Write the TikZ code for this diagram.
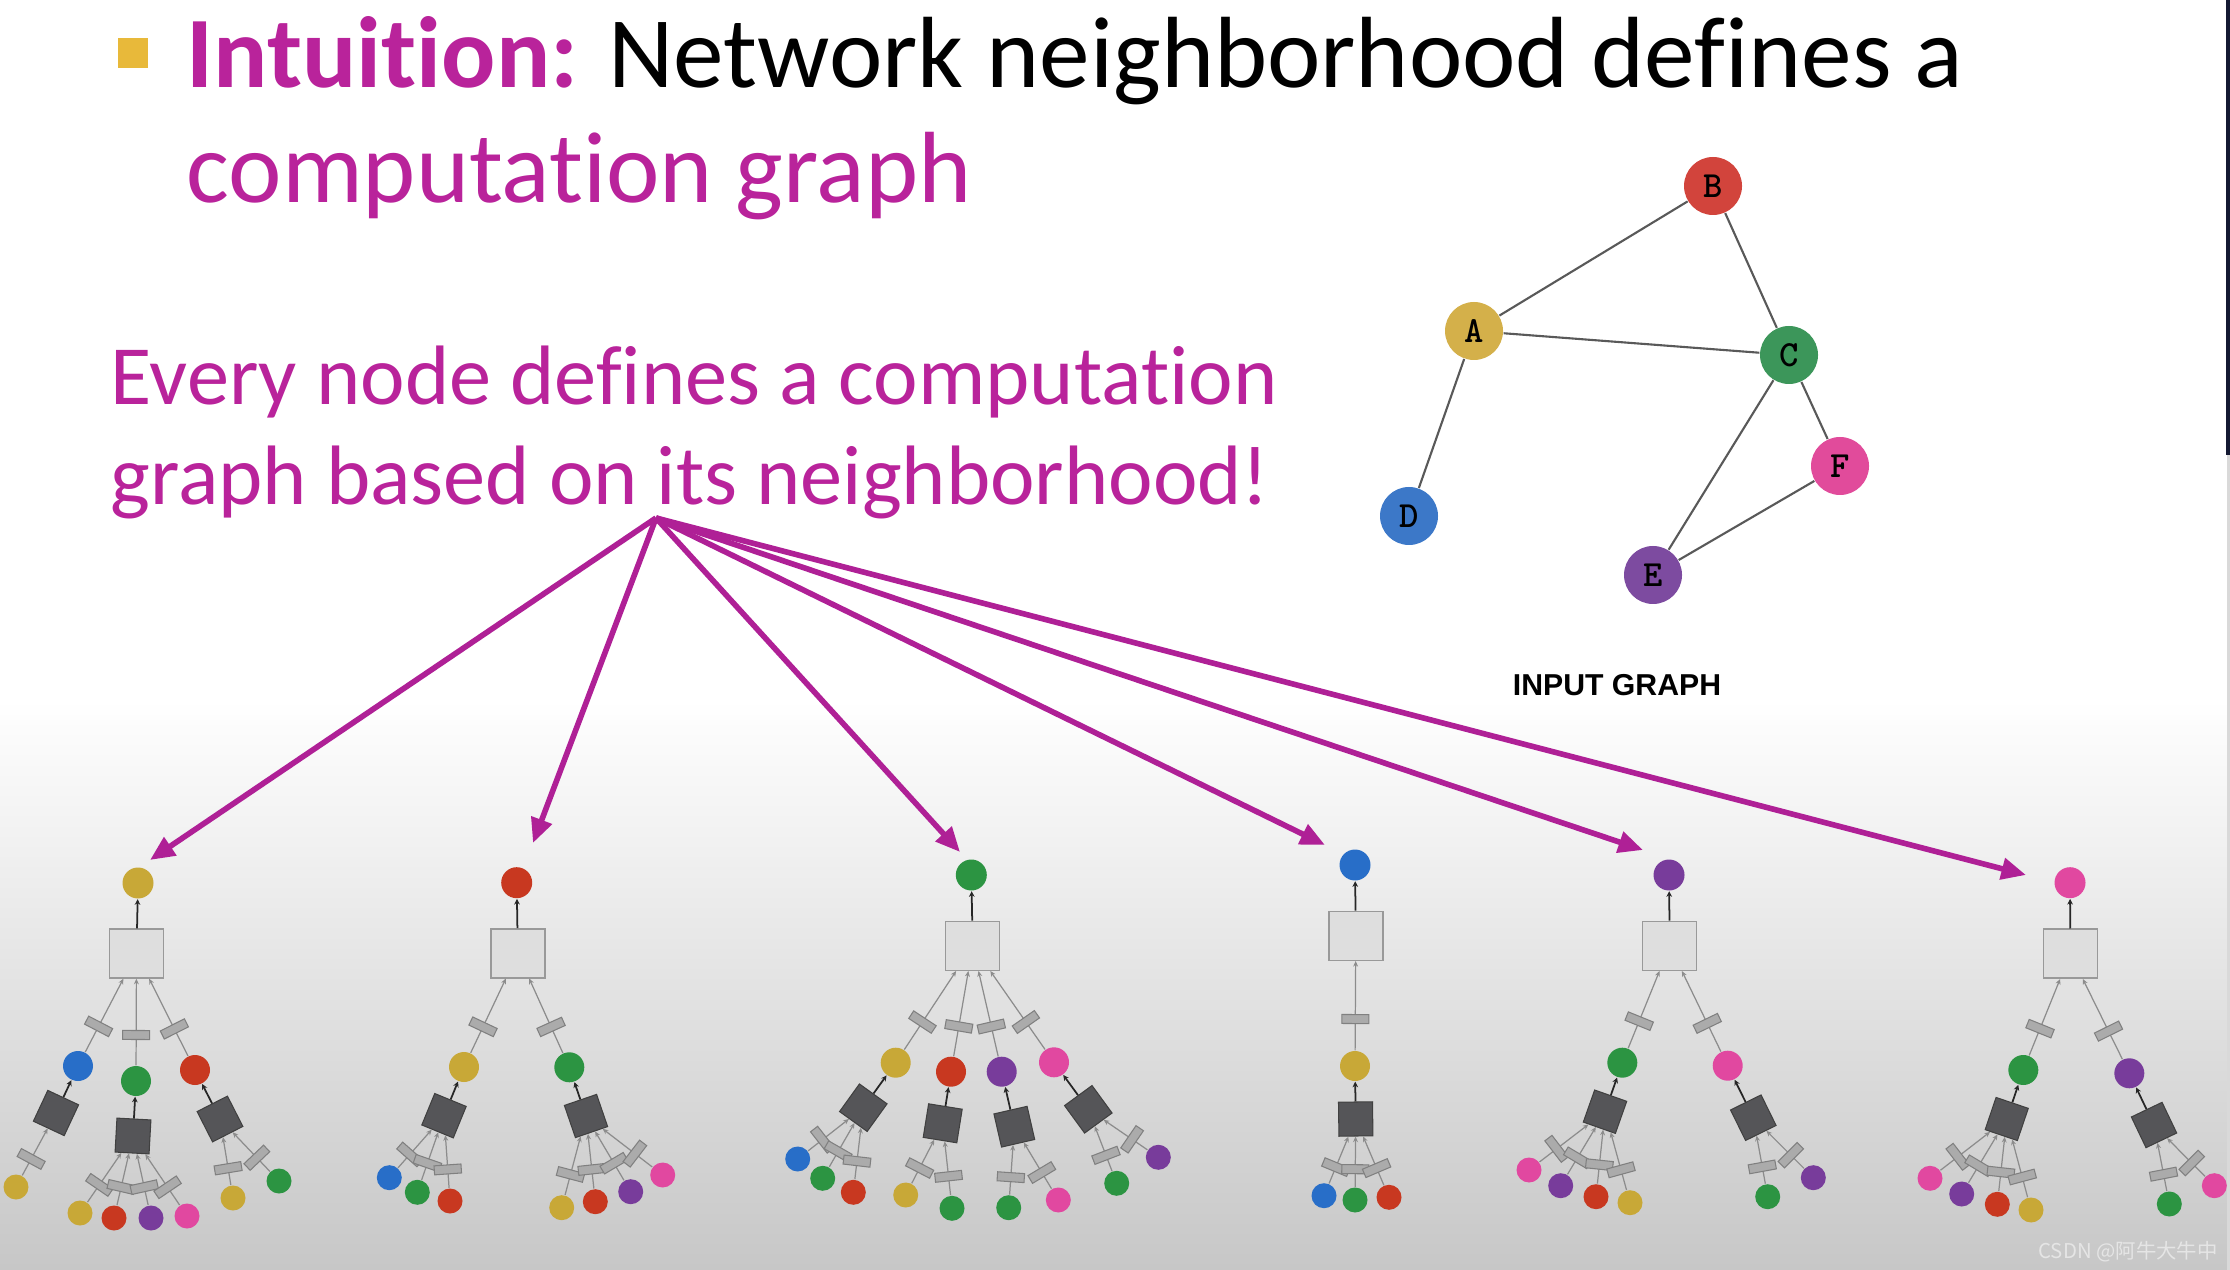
\documentclass[tikz,border=0pt]{standalone}
\usepackage{fontspec}
\usetikzlibrary{arrows.meta}
\newfontfamily\tf[Ligatures=NoCommon]{Carlito}
\newfontfamily\hf{Liberation Sans}
\newfontfamily\cjk{Noto Sans CJK SC}
\definecolor{mag}{RGB}{185,35,155}
\definecolor{amag}{RGB}{175,32,150}
\definecolor{bul}{RGB}{232,185,58}
\definecolor{cy}{RGB}{200,168,55}
\definecolor{cr}{RGB}{200,56,32}
\definecolor{cg}{RGB}{44,148,66}
\definecolor{cb}{RGB}{40,110,200}
\definecolor{cp}{RGB}{120,60,155}
\definecolor{ck}{RGB}{225,72,160}
\definecolor{gA}{RGB}{212,176,74}
\definecolor{gB}{RGB}{210,68,60}
\definecolor{gC}{RGB}{60,150,90}
\definecolor{gD}{RGB}{60,120,200}
\definecolor{gE}{RGB}{125,75,160}
\definecolor{gF}{RGB}{225,75,155}
\definecolor{dbf}{RGB}{85,85,88}
\definecolor{navy}{RGB}{20,25,50}
\newcommand\ed[3][0.35]{\draw[edg] (#2) -- node[eb, pos=#1, sloped]{} (#3);}
\newcommand\tlone[4]{\node[cn, fill=#2] (#1) at (#3) {}; \ed{#1}{#4}}
\newcommand\tleaf[4]{\node[lf, fill=#2] (#1) at (#3) {}; \ed{#1}{#4}}
\newcommand\tdark[3]{\path (#1) -- (#2) node[db, sloped, pos=1] (#3) {}; \draw[con] (#3) -- (#1);}
\begin{document}
\begin{tikzpicture}[x=0.1mm, y=-0.1mm,
 rt/.style={circle, inner sep=0pt, minimum size=3.1mm},
 cn/.style={circle, inner sep=0pt, minimum size=3.0mm},
 lf/.style={circle, inner sep=0pt, minimum size=2.5mm},
 lb/.style={rectangle, inner sep=0pt, minimum width=5.4mm, minimum height=4.9mm, fill=black!13, draw=black!40, line width=0.4pt},
 db/.style={rectangle, inner sep=0pt, minimum size=3.4mm, fill=dbf, draw=black!75, line width=0.3pt},
 eb/.style={rectangle, inner sep=0pt, minimum width=0.9mm, minimum height=2.7mm, fill=black!33, draw=black!50, line width=0.3pt},
 edg/.style={draw=black!45, line width=0.35pt, -{Stealth[length=1.6pt,width=1.4pt]}},
 con/.style={draw=black!85, line width=0.5pt, -{Stealth[length=1.6pt,width=1.6pt]}},
 big/.style={draw=amag, line width=1.6pt, -{Triangle[length=7pt,width=6pt]}},
 gn/.style={circle, inner sep=0pt, minimum size=5.8mm, font=\ttfamily\bfseries\fontsize{10.5pt}{10pt}\selectfont},
 ge/.style={draw=black!65, line width=0.6pt},
 tx/.style={anchor=base west, inner sep=0pt}
]
\useasboundingbox (0,0) rectangle (2230,1270);
\fill[white] (0,0) rectangle (2230,700);
\shade[top color=white, bottom color=black!22] (0,699) rectangle (2230,1270);
\fill[navy] (2226,0) rectangle (2230,455);
\fill[black!15] (2227,455) rectangle (2230,1270);

% title
\fill[bul] (118,38) rectangle (148,68);
\node[tx, font=\tf\fontsize{28.8pt}{32pt}\selectfont] (t1) at (186,88) {\textcolor{mag}{\bfseries Intuition:} Network neighborhood defines a};
\node[tx, font=\tf\fontsize{28.8pt}{32pt}\selectfont, text=mag] (t2) at (186,203) {computation graph};
\node[tx, font=\tf\fontsize{24pt}{28pt}\selectfont, text=mag] (t3) at (110,405) {Every node defines a computation};
\node[tx, font=\tf\fontsize{24pt}{28pt}\selectfont, text=mag] (t4) at (110,505) {graph based on its neighborhood!};

% input graph
\node[gn, fill=gA] (A) at (1474,331) {A};
\node[gn, fill=gB] (B) at (1713,186) {B};
\node[gn, fill=gC] (C) at (1789,355) {C};
\node[gn, fill=gD] (D) at (1409,516) {D};
\node[gn, fill=gE] (E) at (1653,575) {E};
\node[gn, fill=gF] (F) at (1840,466) {F};
\draw[ge] (A) -- (B);
\draw[ge] (A) -- (C);
\draw[ge] (A) -- (D);
\draw[ge] (B) -- (C);
\draw[ge] (C) -- (E);
\draw[ge] (C) -- (F);
\draw[ge] (E) -- (F);
\node[font=\hf\bfseries\fontsize{8.6pt}{9pt}\selectfont] (ig) at (1617,685) {INPUT GRAPH};

% Tree 1 (A)
\node[rt, fill=cy] (r1) at (138,883) {};
\node[lb] (b1) at (136.5,953.5) {};
\draw[con] (b1) -- (r1);
\tlone{a11}{cb}{78,1066}{b1}
\tlone{a12}{cg}{136,1081}{b1}
\tlone{a13}{cr}{195,1070}{b1}
\tdark{a11}{56,1113}{d11}
\tdark{a12}{133,1136}{d12}
\tdark{a13}{220,1119}{d13}
\tleaf{l111}{cy}{16,1187}{d11}
\tleaf{l121}{cy}{80,1213}{d12}
\tleaf{l122}{cr}{114,1218}{d12}
\tleaf{l123}{cp}{151,1218}{d12}
\tleaf{l124}{ck}{187,1216}{d12}
\tleaf{l131}{cy}{233,1198}{d13}
\tleaf{l132}{cg}{279,1181}{d13}

% Tree 2 (B)
\node[rt, fill=cr] (r2) at (516.7,882.7) {};
\node[lb] (b2) at (517.8,953.3) {};
\draw[con] (b2) -- (r2);
\tlone{a21}{cy}{464,1067}{b2}
\tlone{a22}{cg}{569.3,1067.3}{b2}
\tdark{a21}{444,1115.7}{d21}
\tdark{a22}{586,1116}{d22}
\tleaf{l211}{cb}{389.3,1177.7}{d21}
\tleaf{l212}{cg}{417.3,1192.3}{d21}
\tleaf{l213}{cr}{450,1201}{d21}
\tleaf{l221}{cy}{561.7,1207.7}{d22}
\tleaf{l222}{cr}{595.3,1201.7}{d22}
\tleaf{l223}{cp}{630.7,1191.7}{d22}
\tleaf{l224}{ck}{662.7,1175}{d22}

% Tree 3 (C)
\node[rt, fill=cg] (r3) at (971.3,875) {};
\node[lb] (b3) at (972.7,945.8) {};
\draw[con] (b3) -- (r3);
\tlone{a31}{cy}{895.7,1062.7}{b3}
\tlone{a32}{cr}{951,1071.7}{b3}
\tlone{a33}{cp}{1001.7,1071.7}{b3}
\tlone{a34}{ck}{1054,1062.3}{b3}
\tdark{a31}{863.3,1107.7}{d31}
\tdark{a32}{942.7,1123.3}{d32}
\tdark{a33}{1014.3,1126.7}{d33}
\tdark{a34}{1088.3,1109.3}{d34}
\tleaf{l311}{cb}{797.7,1159}{d31}
\tleaf{l312}{cg}{822.7,1178.3}{d31}
\tleaf{l313}{cr}{853.3,1192.3}{d31}
\tleaf{l321}{cy}{905.7,1195}{d32}
\tleaf{l322}{cg}{952,1208.3}{d32}
\tleaf{l331}{cg}{1008.7,1207.7}{d33}
\tleaf{l332}{ck}{1058.3,1200}{d33}
\tleaf{l341}{cg}{1116.7,1183.3}{d34}
\tleaf{l342}{cp}{1158.3,1157.3}{d34}

% Tree 4 (D)
\node[rt, fill=cb] (r4) at (1355,865) {};
\node[lb] (b4) at (1355.8,935.8) {};
\draw[con] (b4) -- (r4);
\tlone{a41}{cy}{1355,1066}{b4}
\tdark{a41}{1355.7,1119}{d41}
\tleaf{l411}{cb}{1324,1195.7}{d41}
\tleaf{l412}{cg}{1355,1200}{d41}
\tleaf{l413}{cr}{1389,1197.3}{d41}

% Tree 5 (E)
\node[rt, fill=cp] (r5) at (1669,875) {};
\node[lb] (b5) at (1669.7,945.8) {};
\draw[con] (b5) -- (r5);
\tlone{a51}{cg}{1622.3,1062.7}{b5}
\tlone{a52}{ck}{1727.7,1065.7}{b5}
\tdark{a51}{1605,1111.7}{d51}
\tdark{a52}{1753.3,1117.7}{d52}
\tleaf{l511}{ck}{1529,1170}{d51}
\tleaf{l512}{cp}{1560.7,1185.7}{d51}
\tleaf{l513}{cr}{1596,1196.7}{d51}
\tleaf{l514}{cy}{1630,1202.7}{d51}
\tleaf{l521}{cg}{1767.7,1196.7}{d52}
\tleaf{l522}{cp}{1813.3,1177.7}{d52}

% Tree 6 (F)
\node[rt, fill=ck] (r6) at (2070,882.7) {};
\node[lb] (b6) at (2070.3,953.7) {};
\draw[con] (b6) -- (r6);
\tlone{a61}{cg}{2023.3,1070}{b6}
\tlone{a62}{cp}{2129.3,1073.3}{b6}
\tdark{a61}{2006.7,1119}{d61}
\tdark{a62}{2154,1125}{d62}
\tleaf{l611}{ck}{1930,1178.3}{d61}
\tleaf{l612}{cp}{1961.7,1194}{d61}
\tleaf{l613}{cr}{1997.3,1204.3}{d61}
\tleaf{l614}{cy}{2031,1210}{d61}
\tleaf{l621}{cg}{2169.3,1204}{d62}
\tleaf{l622}{ck}{2214.3,1185.7}{d62}

% magenta arrows
\coordinate (src) at (656,518);
\coordinate (e1) at (150,860);
\coordinate (e2) at (533,843);
\coordinate (e3) at (960,852);
\coordinate (e4) at (1325,845);
\coordinate (e5) at (1643,850);
\coordinate (e6) at (2026,875);
\foreach \i in {1,...,6} {\draw[big] (src) -- (e\i);}

% watermark
\node[font=\cjk\fontsize{5.8pt}{6pt}\selectfont, text=white!90!black] (wm) at (2128,1252) {CSDN @阿牛大牛中};
\end{tikzpicture}
\end{document}
